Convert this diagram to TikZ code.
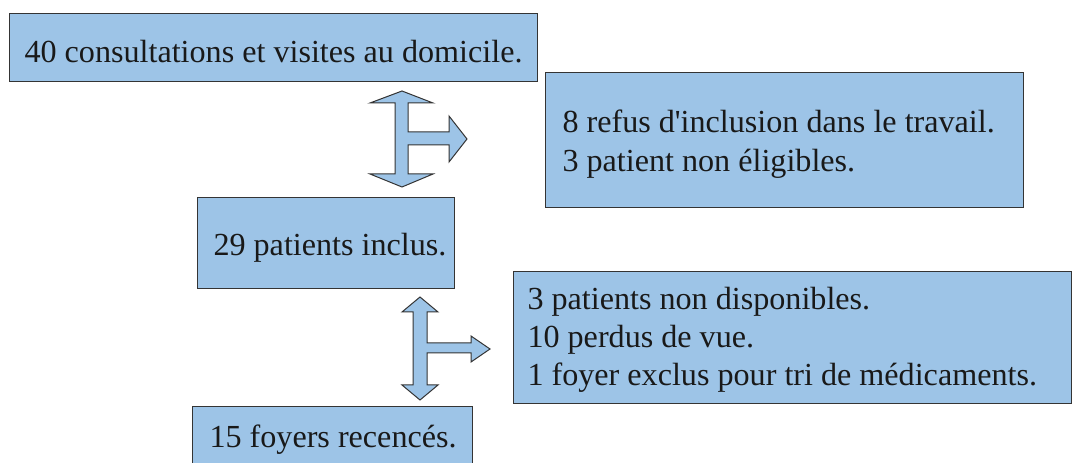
\documentclass[tikz,border=0pt]{standalone}
\usepackage{fontspec}
\setmainfont{Liberation Serif}
\newfontfamily\boxface{Liberation Serif}
\tikzset{every picture/.style={line width=0.75pt}}
\tikzset{
  boxfill/.style={draw={rgb, 255:red, 52; green, 52; blue, 52 },fill={rgb, 255:red, 157; green, 196; blue, 231 },fill opacity=1},
  boxtext/.style={anchor=base west,inner sep=0pt,text={rgb, 255:red, 25; green, 25; blue, 25 },font=\boxface\fontsize{24.1}{28.9}\selectfont}
}
\begin{document}
\begin{tikzpicture}[x=0.75pt,y=0.75pt,yscale=-1,xscale=1]
	\useasboundingbox (0,0) rectangle (1072,463);
	\clip (0,0) rectangle (1072,463);

	%Shape: Rectangle [consult]
	\draw  [boxfill] (9,14) -- (537,14) -- (537,82) -- (9,82) -- cycle ;
	%Shape: Rectangle [refus]
	\draw  [boxfill] (545,73) -- (1023,73) -- (1023,208) -- (545,208) -- cycle ;
	%Shape: Rectangle [inclus]
	\draw  [boxfill] (197,198) -- (454,198) -- (454,289) -- (197,289) -- cycle ;
	%Shape: Rectangle [perdus]
	\draw  [boxfill] (513,272) -- (1071,272) -- (1071,404) -- (513,404) -- cycle ;
	%Shape: Rectangle [foyers]
	\draw  [boxfill] (192,407) -- (472,407) -- (472,475) -- (192,475) -- cycle ;

	%Shape: Arrow [up down right 1]
	\draw  [boxfill] (402,91) -- (433,103) -- (408,103) -- (408,132) -- (449,132) -- (449,116) -- (467,139) -- (449,162) -- (449,145) -- (408,145) -- (408,174) -- (433,174) -- (402,187) -- (370,174) -- (395,174) -- (395,103) -- (370,103) -- cycle ;
	%Shape: Arrow [up down right 2]
	\draw  [boxfill] (420,297) -- (438,312) -- (427,312) -- (427,343) -- (471,343) -- (471,336) -- (490,349) -- (471,362) -- (471,353) -- (427,353) -- (427,385) -- (438,385) -- (420,400) -- (402,385) -- (413,385) -- (413,312) -- (402,312) -- cycle ;

	% Text Node
	\node [boxtext] (consult) at (24,63) {40 consultations et visites au domicile.};
	% Text Node
	\node [boxtext] (refusA) at (562,133) {8 refus d\symbol{39}inclusion dans le travail.};
	% Text Node
	\node [boxtext] (refusB) at (562,172) {3 patient non éligibles.};
	% Text Node
	\node [boxtext] (inclus) at (213,256) {29 patients inclus.};
	% Text Node
	\node [boxtext] (perdusA) at (527,310) {3 patients non disponibles.};
	% Text Node
	\node [boxtext] (perdusB) at (527,348) {10 perdus de vue.};
	% Text Node
	\node [boxtext] (perdusC) at (527,386) {1 foyer exclus pour tri de médicaments.};
	% Text Node
	\node [boxtext] (foyers) at (209,448) {15 foyers recencés.};

\end{tikzpicture}
\end{document}
